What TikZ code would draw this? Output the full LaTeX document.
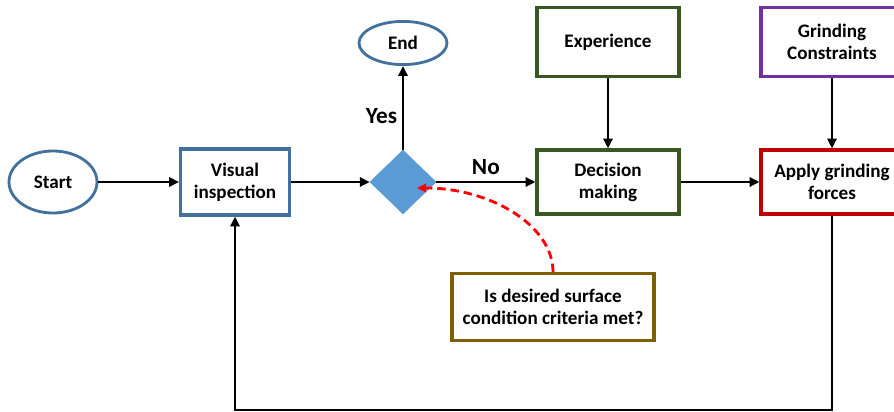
\documentclass[tikz,border=0pt]{standalone}
\usepackage{fontspec}
\setmainfont{Carlito}
\usetikzlibrary{shapes.geometric,arrows.meta}
\definecolor{edgeblue}{HTML}{41719C}
\definecolor{fillblue}{HTML}{5B9BD5}
\definecolor{boxgreen}{HTML}{385723}
\definecolor{boxpurple}{HTML}{7030A0}
\definecolor{boxred}{HTML}{C00000}
\definecolor{boxbrown}{HTML}{7F6000}
\begin{document}
\begin{tikzpicture}[x=0.025cm,y=-0.025cm]
\useasboundingbox (0,0) rectangle (894,412);

\tikzstyle{myterm}=[ellipse,
draw=edgeblue,
line width=2pt,
fill=white,
inner sep=0pt,
font=\bfseries\fontsize{13.6}{15.6}\selectfont
]
\tikzstyle{mybox}=[rectangle,
line width=2.2pt,
fill=white,
align=center,
inner sep=0pt,
minimum width=3.55cm,
minimum height=1.65cm,
font=\bfseries\fontsize{13.6}{15.6}\selectfont
]
\tikzstyle{mydecision}=[diamond,
fill=fillblue,
draw=fillblue,
inner sep=0pt,
minimum width=1.65cm,
minimum height=1.6cm
]
\tikzstyle{mylabel}=[font=\bfseries\fontsize{16.5}{20}\selectfont]
\tikzstyle{myarrow}=[-{Triangle[length=7pt,width=6.5pt]}, line width=1.8pt]

\coordinate (pstart) at (53, 182);
\coordinate (pvis) at (235, 182);
\coordinate (pdec) at (403, 182);
\coordinate (pend) at (403, 43);
\coordinate (pexp) at (608, 42);
\coordinate (pmake) at (608, 182);
\coordinate (pgc) at (832, 42);
\coordinate (papply) at (832, 182);
\coordinate (pcrit) at (553, 307);
\coordinate (pback) at (235, 410);
\coordinate (ptip) at (417, 188);

\node[myterm, minimum width=2.2cm, minimum height=1.55cm] (start) at (pstart) {Start};
\node[mybox, draw=edgeblue, minimum width=2.72cm] (vis) at (pvis) {Visual\\inspection};
\node[mydecision] (dec) at (pdec) {};
\node[myterm, minimum width=2.2cm, minimum height=1.08cm] (end) at (pend) {End};
\node[mybox, draw=boxgreen, minimum height=1.72cm] (exp) at (pexp) {Experience};
\node[mybox, draw=boxgreen, minimum height=1.6cm] (make) at (pmake) {Decision\\making};
\node[mybox, draw=boxpurple, minimum height=1.72cm] (gc) at (pgc) {Grinding\\Constraints};
\node[mybox, draw=boxred, minimum height=1.6cm] (apply) at (papply) {Apply grinding\\forces};
\node[mybox, draw=boxbrown, minimum width=5.05cm, minimum height=1.67cm] (crit) at (pcrit) {Is desired surface\\condition criteria met?};

\draw[myarrow] (start) -- (vis);
\draw[myarrow] (vis) -- (dec);
\draw[myarrow] (dec) -- node[mylabel, left, pos=0.4] {Yes} (end);
\draw[myarrow] (dec) -- node[mylabel, above=1pt] {No} (make);
\draw[myarrow] (exp) -- (make);
\draw[myarrow] (make) -- (apply);
\draw[myarrow] (gc) -- (apply);
\draw[myarrow] (apply.south) |- (pback) -- (vis.south);

\draw[red, line width=2pt, dash pattern=on 6pt off 3.5pt, -{Triangle[length=6.5pt,width=6pt]}]
(crit.north) .. controls (553, 225) and (490, 188) .. (ptip);

\end{tikzpicture}
\end{document}
